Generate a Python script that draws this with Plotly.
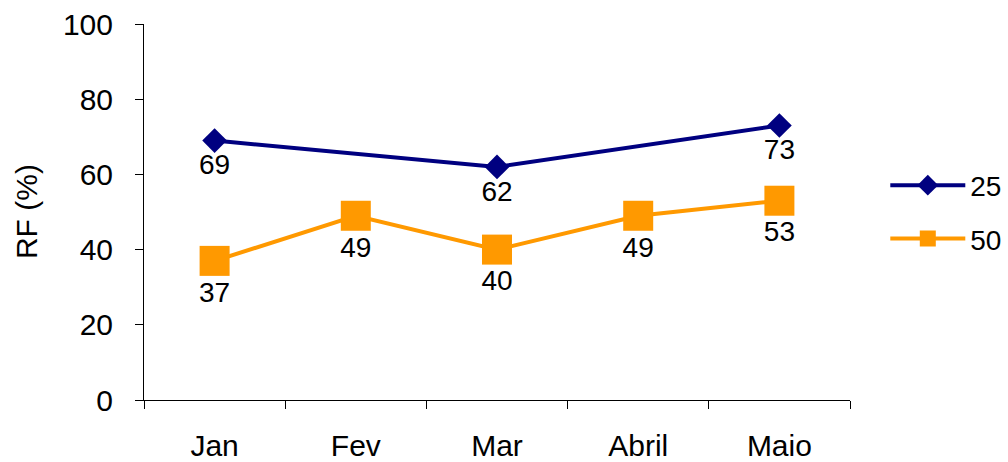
import plotly.graph_objects as go

categories = ["Jan", "Fev", "Mar", "Abril", "Maio"]
series_25 = [69, None, 62, None, 73]
series_50 = [37, 49, 40, 49, 53]
y_ticks = [0, 20, 40, 60, 80, 100]
y_title = "RF (%)"

FONT = "Liberation Sans, Arial, sans-serif"
FS = 28
TFS = 30

fig = go.Figure()
fig.add_trace(go.Scatter(
    x=categories, y=series_25, name="25", mode="lines+markers+text",
    connectgaps=True, legendgroup="a",
    line=dict(color="#000080", width=4),
    marker=dict(symbol="diamond", size=19, color="#000080"),
    text=[("" if v is None else str(v)) for v in series_25],
    textposition="bottom center", textfont=dict(size=FS, color="black", family=FONT),
    cliponaxis=False,
))
fig.add_trace(go.Scatter(
    x=categories, y=series_50, name="50", mode="lines+markers+text",
    legendgroup="b",
    line=dict(color="#FF9900", width=4),
    marker=dict(symbol="square", size=30, color="#FF9900"),
    text=[str(v) for v in series_50],
    textposition="bottom center", textfont=dict(size=FS, color="black", family=FONT),
    cliponaxis=False,
))

fig.update_layout(
    width=1008, height=462,
    margin=dict(l=144, r=158, t=24, b=62, autoexpand=False),
    paper_bgcolor="white", plot_bgcolor="white",
    font=dict(family=FONT, size=FS, color="black"),
    showlegend=True,
    legend=dict(x=1.05, y=0.5, xanchor="left", yanchor="middle",
                itemwidth=75, tracegroupgap=14, traceorder="grouped",
                font=dict(size=FS), bgcolor="rgba(0,0,0,0)"),
    xaxis=dict(
        type="category", categoryorder="array", categoryarray=categories,
        range=[-0.5, 4.5], tickson="boundaries", ticks="outside", ticklen=8,
        tickcolor="black", showline=True, linecolor="black", linewidth=1,
        showgrid=False, zeroline=False, ticklabelstandoff=19, automargin=False,
        tickfont=dict(size=TFS),
    ),
    yaxis=dict(
        range=[0, 100], tickvals=y_ticks, ticks="outside", ticklen=8,
        tickcolor="black", showline=True, linecolor="black", linewidth=1,
        showgrid=False, zeroline=False, ticklabelstandoff=16, automargin=False,
        tickfont=dict(size=TFS),
    ),
    annotations=[dict(
        text=y_title, xref="paper", yref="paper", x=-0.167, y=0.5,
        xanchor="center", yanchor="middle", textangle=-90, showarrow=False,
        font=dict(size=TFS, family=FONT, color="black"),
    )],
)

fig.write_html(
    "out.html",
    config={"displayModeBar": False},
    post_script="document.body.style.margin='0';document.body.style.overflow='hidden';",
)
